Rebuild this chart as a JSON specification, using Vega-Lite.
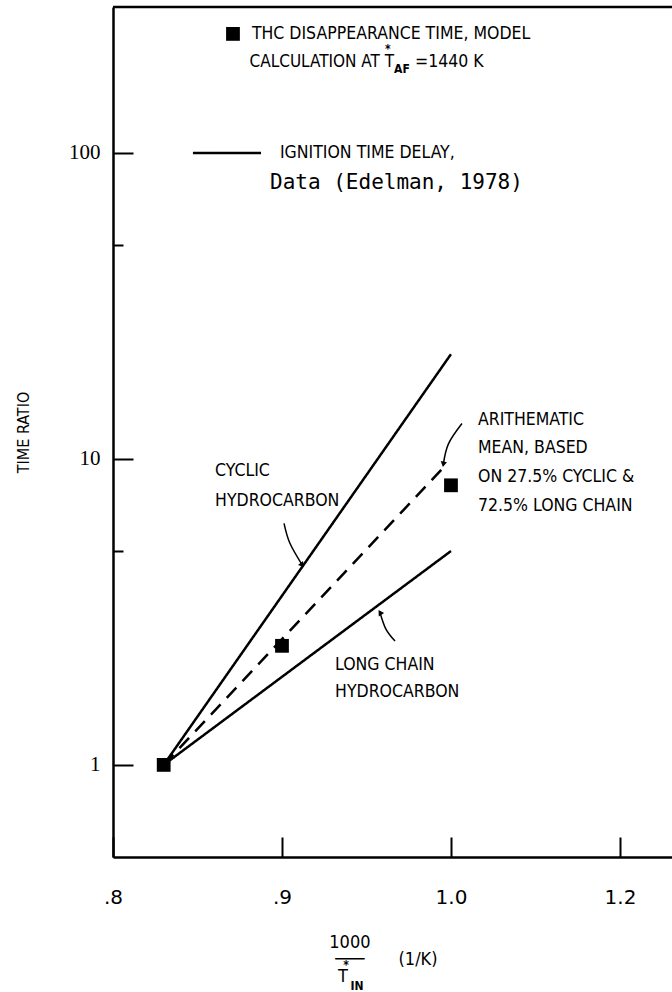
{
  "$schema": "https://vega.github.io/schema/vega-lite/v6.json",
  "width": 559,
  "height": 850,
  "autosize": {"type": "none"},
  "padding": {"left": 113, "top": 7, "right": 0, "bottom": 135},
  "background": "white",
  "config": {"view": {"stroke": null}, "font": "DejaVu Sans"},
  "datasets": {
    "lines": [
      {"series": "cyclic", "x": 0.83, "y": 1},
      {"series": "cyclic", "x": 1.0, "y": 22},
      {"series": "long", "x": 0.83, "y": 1},
      {"series": "long", "x": 1.0, "y": 5},
      {"series": "mean", "x": 0.83, "y": 1},
      {"series": "mean", "x": 0.995, "y": 9.3},
      {"series": "legend", "x": 0.8473, "y": 100},
      {"series": "legend", "x": 0.8876, "y": 100}
    ],
    "points": [
      {"x": 0.83, "y": 1},
      {"x": 0.9, "y": 2.45},
      {"x": 1.0, "y": 8.2},
      {"x": 0.871, "y": 245}
    ],
    "border": [{"y": 300}],
    "arrows": [
      {"arrow": "cyclic", "order": 1, "x": 0.9012, "y": 6.16},
      {"arrow": "cyclic", "order": 2, "x": 0.9047, "y": 5.3},
      {"arrow": "cyclic", "order": 3, "x": 0.912, "y": 4.5},
      {"arrow": "long", "order": 1, "x": 0.9669, "y": 2.54},
      {"arrow": "long", "order": 2, "x": 0.9615, "y": 2.78},
      {"arrow": "long", "order": 3, "x": 0.958, "y": 3.15},
      {"arrow": "mean", "order": 1, "x": 1.0065, "y": 13.05},
      {"arrow": "mean", "order": 2, "x": 0.9985, "y": 11.2},
      {"arrow": "mean", "order": 3, "x": 0.9955, "y": 9.6}
    ],
    "texts": [
      {"role": "caps", "text": "THC DISAPPEARANCE TIME, MODEL", "x": 0.8822, "y": 245},
      {"role": "capsr", "text": "CALCULATION AT T", "x": 0.9663, "y": 198},
      {"role": "caps", "text": "=1440 K", "x": 0.9787, "y": 198},
      {"role": "small", "text": "AF", "x": 0.9663, "y": 188},
      {"role": "smallc", "text": "*", "x": 0.9627, "y": 218},
      {"role": "caps", "text": "IGNITION TIME DELAY,", "x": 0.8988, "y": 100},
      {"role": "mono", "text": "Data (Edelman, 1978)", "x": 0.8929, "y": 80},
      {"role": "caps", "text": "CYCLIC", "x": 0.8604, "y": 9.1},
      {"role": "caps", "text": "HYDROCARBON", "x": 0.8604, "y": 7.3},
      {"role": "caps", "text": "LONG CHAIN", "x": 0.9314, "y": 2.12},
      {"role": "caps", "text": "HYDROCARBON", "x": 0.9314, "y": 1.73},
      {"role": "caps", "text": "ARITHEMATIC", "x": 1.016, "y": 13.45},
      {"role": "caps", "text": "MEAN, BASED", "x": 1.016, "y": 10.82},
      {"role": "caps", "text": "ON 27.5% CYCLIC &", "x": 1.016, "y": 8.7},
      {"role": "caps", "text": "72.5% LONG CHAIN", "x": 1.016, "y": 7.0},
      {"role": "titlec", "text": "1000", "x": 0.9402, "y": 0.2626},
      {"role": "titlec", "text": "\u2500\u2500\u2500", "x": 0.9402, "y": 0.231},
      {"role": "titlec", "text": "(1/K)", "x": 0.9805, "y": 0.231},
      {"role": "titlec", "text": "T", "x": 0.9361, "y": 0.202},
      {"role": "smallc", "text": "*", "x": 0.9379, "y": 0.222},
      {"role": "smallc", "text": "IN", "x": 0.9444, "y": 0.19}
    ]
  },
  "encoding": {
    "x": {
      "field": "x", "type": "quantitative",
      "scale": {"domain": [0.8, 1.1308], "nice": false, "zero": false},
      "axis": {
        "orient": "bottom", "title": null, "grid": false,
        "values": [0.8, 0.9, 1.0, 1.1],
        "labelExpr": "datum.value < 0.85 ? '.8' : datum.value < 0.95 ? '.9' : datum.value < 1.05 ? '1.0' : '1.2'",
        "domainColor": "black", "domainWidth": 2.5,
        "tickColor": "black", "tickWidth": 2, "tickSize": -20,
        "labelFont": "DejaVu Sans", "labelFontSize": 20, "labelFontWeight": "normal", "labelColor": "black",
        "labelPadding": 50, "labelFlush": false, "labelOverlap": false
      }
    },
    "y": {
      "field": "y", "type": "quantitative",
      "scale": {"type": "log", "domain": [0.5, 300], "nice": false},
      "axis": {
        "orient": "left", "grid": false,
        "values": [1, 5, 10, 50, 100],
        "labelExpr": "datum.value == 5 || datum.value == 50 ? '' : toString(datum.value)",
        "domainColor": "black", "domainWidth": 2.5,
        "tickColor": "black", "tickWidth": 2,
        "tickSize": {"condition": {"test": "datum.value == 5 || datum.value == 50", "value": -10}, "value": -20},
        "labelFont": "Liberation Serif", "labelFontSize": 21, "labelFontWeight": "normal", "labelColor": "black",
        "labelPadding": 33, "labelFlush": false, "labelOverlap": false,
        "title": "TIME RATIO", "titleFont": "DejaVu Sans Condensed, Liberation Sans", "titleFontSize": 16,
        "titleFontWeight": "normal", "titleColor": "black", "titleX": -82
      }
    }
  },
  "layer": [
    {
      "data": {"name": "lines"},
      "mark": {"type": "line", "color": "black", "strokeWidth": 2.5},
      "encoding": {
        "detail": {"field": "series"},
        "strokeDash": {
          "field": "series", "type": "nominal", "legend": null,
          "scale": {"domain": ["cyclic", "long", "mean", "legend"], "range": [[1, 0], [1, 0], [14, 9], [1, 0]]}
        }
      }
    },
    {
      "data": {"name": "border"},
      "mark": {"type": "rule", "color": "black", "strokeWidth": 2.5},
      "encoding": {"x": null}
    },
    {
      "data": {"name": "points"},
      "mark": {"type": "point", "shape": "square", "filled": true, "color": "black", "size": 190, "opacity": 1}
    },
    {
      "data": {"name": "arrows"},
      "mark": {"type": "line", "color": "black", "strokeWidth": 1.5, "interpolate": "natural"},
      "encoding": {"detail": {"field": "arrow"}, "order": {"field": "order"}}
    },
    {
      "data": {"name": "arrows"},
      "transform": [{"filter": "datum.order == 3 && datum.arrow == 'cyclic'"}],
      "mark": {"type": "point", "shape": "triangle-right", "filled": true, "color": "black", "size": 40, "angle": 50, "opacity": 1}
    },
    {
      "data": {"name": "arrows"},
      "transform": [{"filter": "datum.order == 3 && datum.arrow == 'long'"}],
      "mark": {"type": "point", "shape": "triangle-right", "filled": true, "color": "black", "size": 40, "angle": 238, "opacity": 1}
    },
    {
      "data": {"name": "arrows"},
      "transform": [{"filter": "datum.order == 3 && datum.arrow == 'mean'"}],
      "mark": {"type": "point", "shape": "triangle-right", "filled": true, "color": "black", "size": 40, "angle": 100, "opacity": 1}
    },
    {
      "data": {"name": "texts"},
      "transform": [{"filter": "datum.role == 'caps'"}],
      "mark": {"type": "text", "align": "left", "baseline": "middle", "font": "DejaVu Sans Condensed, Liberation Sans", "fontSize": 17.5, "color": "black"},
      "encoding": {"text": {"field": "text"}}
    },
    {
      "data": {"name": "texts"},
      "transform": [{"filter": "datum.role == 'capsr'"}],
      "mark": {"type": "text", "align": "right", "baseline": "middle", "font": "DejaVu Sans Condensed, Liberation Sans", "fontSize": 17, "color": "black"},
      "encoding": {"text": {"field": "text"}}
    },
    {
      "data": {"name": "texts"},
      "transform": [{"filter": "datum.role == 'small'"}],
      "mark": {"type": "text", "align": "left", "baseline": "middle", "font": "DejaVu Sans Condensed, Liberation Sans", "fontSize": 12, "fontWeight": "bold", "color": "black"},
      "encoding": {"text": {"field": "text"}}
    },
    {
      "data": {"name": "texts"},
      "transform": [{"filter": "datum.role == 'mono'"}],
      "mark": {"type": "text", "align": "left", "baseline": "middle", "font": "DejaVu Sans Mono", "fontSize": 21, "color": "black"},
      "encoding": {"text": {"field": "text"}}
    },
    {
      "data": {"name": "texts"},
      "transform": [{"filter": "datum.role == 'titlec'"}],
      "mark": {"type": "text", "align": "center", "baseline": "middle", "font": "DejaVu Sans Condensed, Liberation Sans", "fontSize": 18, "color": "black"},
      "encoding": {"text": {"field": "text"}}
    },
    {
      "data": {"name": "texts"},
      "transform": [{"filter": "datum.role == 'smallc'"}],
      "mark": {"type": "text", "align": "center", "baseline": "middle", "font": "DejaVu Sans Condensed, Liberation Sans", "fontSize": 12, "fontWeight": "bold", "color": "black"},
      "encoding": {"text": {"field": "text"}}
    }
  ]
}
